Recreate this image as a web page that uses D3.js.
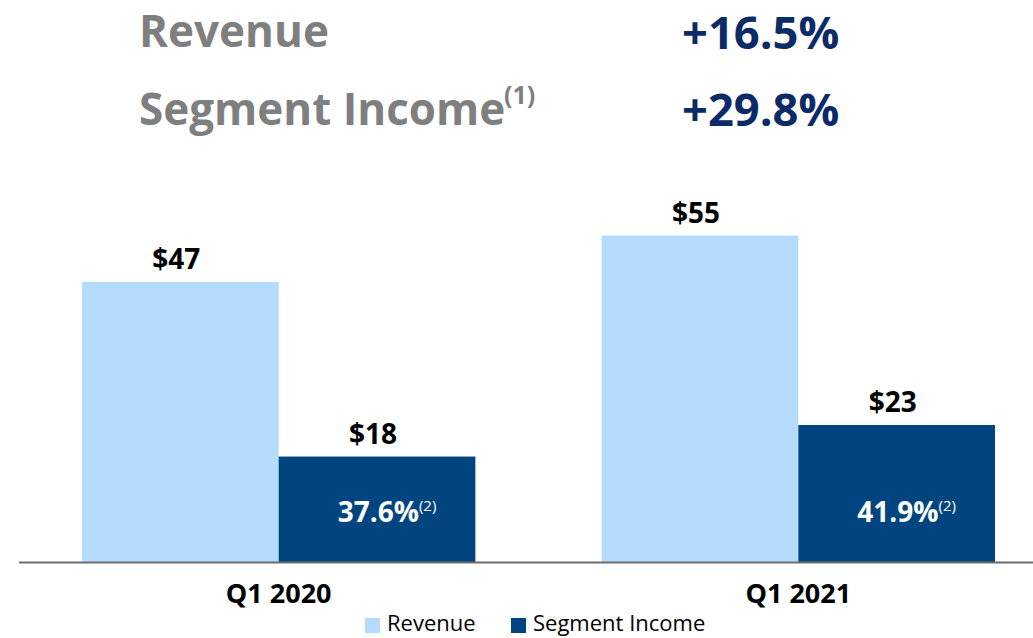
<!DOCTYPE html>
<html>
<head>
<meta charset="utf-8">
<script src="https://cdn.jsdelivr.net/npm/d3@7"></script>
<style>
  html, body { margin: 0; padding: 0; background: #fff; }
  svg { display: block; font-family: "Open Sans", sans-serif; }
</style>
</head>
<body>
<svg id="canvas" width="1033" height="638"></svg>
<script>
// donnees (millions $)
let quarters = ['Q1 2020', 'Q1 2021']
let series = ['Revenue', 'Segment Income']
let revenue = [47.0, 54.8]
let segmentIncome = [17.7, 23.0]
let valueLabels = [['$47', '$18'], ['$55', '$23']]
let margins = ['37.6%', '41.9%']
let headline = ['Revenue', 'Segment Income']
let growth = ['+16.5%', '+29.8%']

let colors = { 'Revenue': '#b5dcfd', 'Segment Income': '#00457f' }

let canvas = d3.select('#canvas')

// echelles
let x0 = d3.scaleBand().domain(quarters).range([82, 995]).paddingInner(0.243).paddingOuter(0)
let x1 = d3.scaleBand().domain(series).range([0, x0.bandwidth()]).padding(0)
let y = d3.scaleLinear().domain([0, 50]).range([562, 264.15])

// titre
let titre = canvas.append('g')
titre.selectAll('text.head')
     .data(headline)
     .enter()
     .append('text')
     .attr('class', 'head')
     .attr('x', 139)
     .attr('y', (d, i) => 47 + i * 78)
     .attr('font-size', 44)
     .attr('font-weight', 700)
     .attr('fill', '#7f7f7f')
     .text(d => d)
titre.append('text')
     .attr('x', 504)
     .attr('y', 104)
     .attr('font-size', 25)
     .attr('font-weight', 700)
     .attr('fill', '#7f7f7f')
     .text('(1)')
titre.selectAll('text.growth')
     .data(growth)
     .enter()
     .append('text')
     .attr('class', 'growth')
     .attr('x', 682)
     .attr('y', (d, i) => 48.5 + i * 77.5)
     .attr('font-size', 45.3)
     .attr('font-weight', 700)
     .attr('fill', '#0b2a68')
     .text(d => d)

// barres
let rows = quarters.map((q, i) => ({
  quarter: q,
  values: [
    { key: 'Revenue', value: revenue[i], label: valueLabels[i][0] },
    { key: 'Segment Income', value: segmentIncome[i], label: valueLabels[i][1], margin: margins[i] }
  ]
}))

let groupes = canvas.selectAll('g.groupe')
  .data(rows)
  .enter()
  .append('g')
  .attr('class', 'groupe')
  .attr('transform', d => `translate(${x0(d.quarter)},0)`)

groupes.selectAll('rect')
  .data(d => d.values)
  .enter()
  .append('rect')
  .attr('x', d => x1(d.key))
  .attr('y', d => y(d.value))
  .attr('width', x1.bandwidth())
  .attr('height', d => y(0) - y(d.value))
  .attr('fill', d => colors[d.key])

groupes.selectAll('text.val')
  .data(d => d.values)
  .enter()
  .append('text')
  .attr('class', 'val')
  .attr('x', d => x1(d.key) + x1.bandwidth() / 2 - 4)
  .attr('y', d => y(d.value) - 13)
  .attr('text-anchor', 'middle')
  .attr('font-size', 28)
  .attr('font-weight', 700)
  .attr('fill', '#000')
  .text(d => d.label)

// marge dans la barre segment
let marge = groupes.append('text')
  .attr('x', d => x1('Segment Income') + x1.bandwidth() / 2 + 10)
  .attr('y', 522)
  .attr('text-anchor', 'middle')
  .attr('fill', '#fff')
marge.append('tspan')
  .attr('font-size', 28)
  .attr('font-weight', 700)
  .text(d => d.values[1].margin)
marge.append('tspan')
  .attr('font-size', 15)
  .attr('dy', -11)
  .text('(2)')

// axe
let axe = canvas.append('g')
  .attr('transform', `translate(0,${y(0)})`)
  .call(d3.axisBottom(x0).tickSize(0).tickPadding(0))
axe.select('.domain').remove()
axe.append('line')
  .attr('x1', 19).attr('x2', 1033)
  .attr('y1', 0.5).attr('y2', 0.5)
  .attr('stroke', '#6d6d6d').attr('stroke-width', 2)
axe.selectAll('.tick text')
  .attr('y', 41)
  .attr('dy', 0)
  .attr('font-family', '"Open Sans", sans-serif')
  .attr('font-size', 27)
  .attr('font-weight', 700)
  .attr('fill', '#000')

// legende
let legende = canvas.append('g')
let legX = [365, 511]
series.forEach((s, i) => {
  legende.append('rect')
    .attr('x', legX[i]).attr('y', 618)
    .attr('width', 15).attr('height', 15)
    .attr('fill', colors[s])
  legende.append('text')
    .attr('x', legX[i] + 22).attr('y', 631)
    .attr('font-size', 22)
    .attr('fill', '#000')
    .text(s)
})
</script>
</body>
</html>
